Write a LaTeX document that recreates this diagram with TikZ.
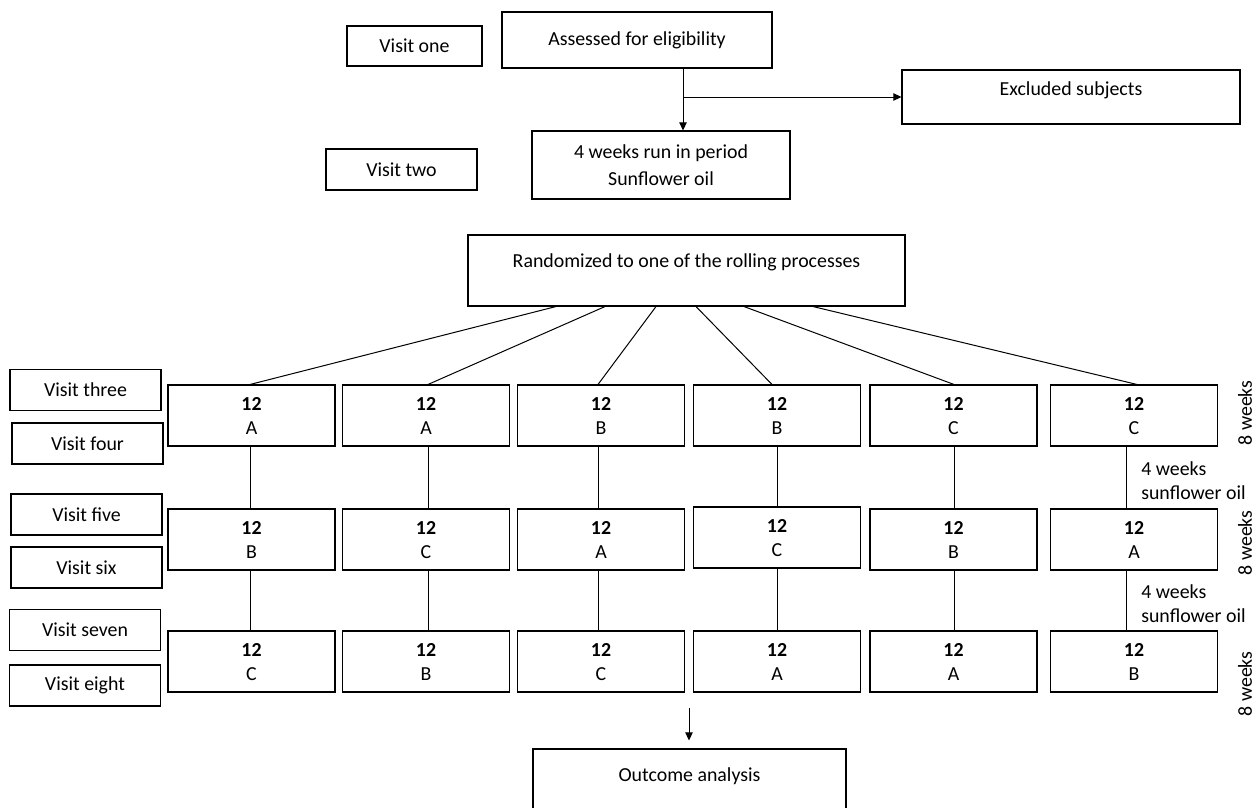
\documentclass[tikz,border=0pt]{standalone}
\usepackage{fontspec}
\setmainfont{Carlito}
\usetikzlibrary{arrows.meta}

% cell of a sequence box: group size over the rolling process
\newcommand{\armcell}[1]{\rule{0pt}{16pt}\textbf{12}\\#1\strut}

\begin{document}
\begin{tikzpicture}[x=0.75pt,y=-0.75pt,
    font=\fontsize{14.9}{18}\selectfont,
    box/.style 2 args={draw,line width=0.8pt,inner sep=0pt,align=center,
        minimum width=#1*0.75pt,minimum height=#2*0.75pt},
    visit/.style={box={151}{41}},
    arm/.style={box={167}{61}},
    link/.style={line width=0.75pt},
    >={Triangle[length=6pt,width=5.5pt]}]
    \useasboundingbox (0,0) rectangle (1255,807);
    \clip (0,0) rectangle (1255,807);
    % Screening
    \node[box={135}{40}] (v1) at (414.5,46) {Visit one};
    \node[box={270}{56}] (assess) at (637,40) {Assessed for eligibility};
    \node[box={338}{54},label={[yshift=5pt]center:Excluded subjects}] (excl) at (1071,97) {};
    \node[box={151}{41}] (v2) at (401.5,169.5) {Visit two};
    \node[box={258}{68},font=\fontsize{14.9}{20}\selectfont] (runin) at (661,165) {4 weeks run in period\\Sunflower oil};
    \draw[link,->] (683,0 |- assess.south) -- (683,0 |- runin.north);
    \draw[link,->] (683,0 |- excl.west) -- (excl.west);
    % Randomisation
    \node[box={437}{71},label={[yshift=6.5pt]center:Randomized to one of the rolling processes}] (rand) at (686.5,270.5) {};
    % Visit labels
    \node[visit] (v3) at (85.5,390) {Visit three};
    \node[visit] (v4) at (87.5,443.5) {Visit four};
    \node[visit] (v5) at (86.5,514.5) {Visit five};
    \node[visit] (v6) at (86.5,567.5) {Visit six};
    \node[visit] (v7) at (85,630) {Visit seven};
    \node[visit] (v8) at (85,685.5) {Visit eight};
    % First period
    \node[arm] (a1) at (251.5,415.5) {\armcell{A}};
    \node[arm] (a2) at (426,415.5) {\armcell{A}};
    \node[arm] (a3) at (601,415.5) {\armcell{B}};
    \node[arm] (a4) at (777,415.5) {\armcell{B}};
    \node[arm] (a5) at (953.5,415.5) {\armcell{C}};
    \node[arm] (a6) at (1134,415.5) {\armcell{C}};
    % Second period
    \node[arm] (b1) at (251.5,539.5) {\armcell{B}};
    \node[arm] (b2) at (426,539.5) {\armcell{C}};
    \node[arm] (b3) at (601,539.5) {\armcell{A}};
    \node[arm] (b4) at (777,537.5) {\armcell{C}};
    \node[arm] (b5) at (953.5,539.5) {\armcell{B}};
    \node[arm] (b6) at (1134,539.5) {\armcell{A}};
    % Third period
    \node[arm] (c1) at (251.5,661.5) {\armcell{C}};
    \node[arm] (c2) at (426,661.5) {\armcell{B}};
    \node[arm] (c3) at (601,661.5) {\armcell{C}};
    \node[arm] (c4) at (777,661.5) {\armcell{A}};
    \node[arm] (c5) at (953.5,661.5) {\armcell{A}};
    \node[arm] (c6) at (1134,661.5) {\armcell{B}};
    % Fan out to the six sequences
    \draw[link] (556,0 |- rand.south) -- (250,0 |- a1.north);
    \draw[link] (605,0 |- rand.south) -- (428,0 |- a2.north);
    \draw[link] (656,0 |- rand.south) -- (598,0 |- a3.north);
    \draw[link] (696,0 |- rand.south) -- (772,0 |- a4.north);
    \draw[link] (744,0 |- rand.south) -- (954,0 |- a5.north);
    \draw[link] (813,0 |- rand.south) -- (1137,0 |- a6.north);
    % Washout links
    \draw[link] (250,0 |- a1.south) -- (250,0 |- b1.north);
    \draw[link] (428,0 |- a2.south) -- (428,0 |- b2.north);
    \draw[link] (598,0 |- a3.south) -- (598,0 |- b3.north);
    \draw[link] (777,0 |- a4.south) -- (777,0 |- b4.north);
    \draw[link] (954,0 |- a5.south) -- (954,0 |- b5.north);
    \draw[link] (1126,0 |- a6.south) -- (1126,0 |- b6.north);
    \draw[link] (250,0 |- b1.south) -- (250,0 |- c1.north);
    \draw[link] (428,0 |- b2.south) -- (428,0 |- c2.north);
    \draw[link] (598,0 |- b3.south) -- (598,0 |- c3.north);
    \draw[link] (777,0 |- b4.south) -- (777,0 |- c4.north);
    \draw[link] (954,0 |- b5.south) -- (954,0 |- c5.north);
    \draw[link] (1126,0 |- b6.south) -- (1126,0 |- c6.north);
    \node[anchor=west,align=left,inner sep=0pt] (wash1) at (1141,481) {4 weeks\\sunflower oil};
    \node[anchor=west,align=left,inner sep=0pt] (wash2) at (1141,604) {4 weeks\\sunflower oil};
    % Period lengths
    \node[rotate=90,inner sep=0pt] (p1) at (1245,413) {8 weeks};
    \node[rotate=90,inner sep=0pt] (p2) at (1245,543) {8 weeks};
    \node[rotate=90,inner sep=0pt] (p3) at (1245,684) {8 weeks};
    % Analysis
    \node[box={313}{70},label={[yshift=6pt]center:Outcome analysis}] (outc) at (689.5,784) {};
    \coordinate (fromrows) at (689,708);
    \draw[link,->,shorten >=6pt] (fromrows) -- (fromrows |- outc.north);
\end{tikzpicture}
\end{document}
